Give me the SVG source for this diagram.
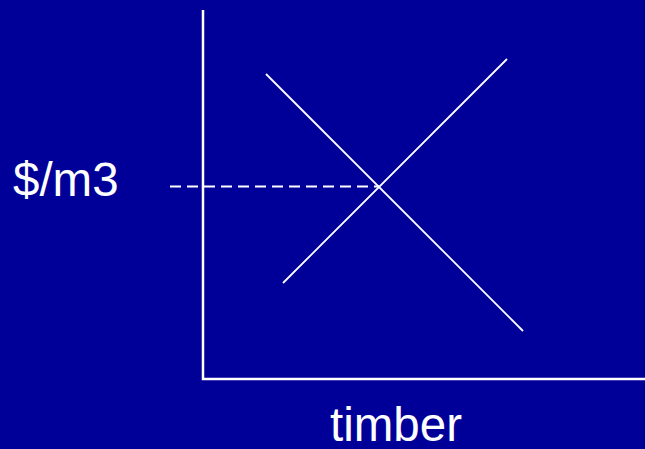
<svg xmlns="http://www.w3.org/2000/svg" width="645" height="449" viewBox="0 0 645 449">
<style>
.ax{stroke:#fff;stroke-width:2.5;fill:none}
.ln{stroke:#fff;stroke-width:1.8;fill:none}
.lbl{font-family:"Liberation Sans",Arial,sans-serif;font-size:47.5px;fill:#fff}
</style>
<rect width="645" height="449" fill="#000099"/>
<g id="axes">
<path class="ax" d="M203,10 V379 H645"/>
</g>
<g id="connectors">
<path class="ln" d="M266,74 L523,331"/>
<path class="ln" d="M283,283 L507,59"/>
<path class="ln" d="M170,186.5 H379" stroke-dasharray="11,6"/>
</g>
<g id="label-y"><text class="lbl" x="13" y="196">$/m3</text></g>
<g id="label-x"><text class="lbl" x="330" y="441">timber</text></g>
</svg>
